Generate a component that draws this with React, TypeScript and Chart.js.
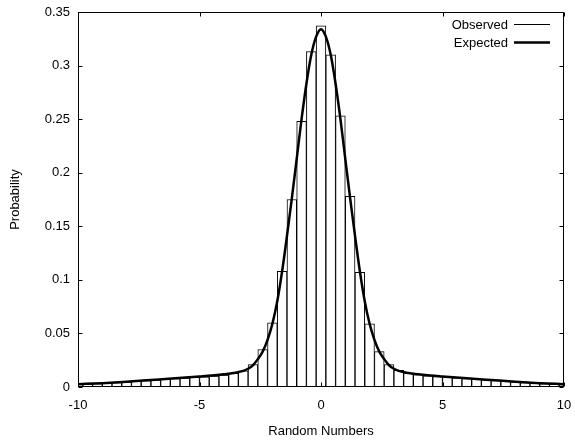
import React, { useEffect, useRef } from "react";
import { Chart, registerables } from "chart.js";

Chart.register(...registerables);

// Histogram bin centres (bin width 0.4)
const binCenters = [
  -10, -9.6, -9.2, -8.8, -8.4, -8, -7.6, -7.2, -6.8, -6.4, -6, -5.6, -5.2, -4.8, -4.4, -4, -3.6,
  -3.2, -2.8, -2.4, -2, -1.6, -1.2, -0.8, -0.4, 0, 0.4, 0.8, 1.2, 1.6, 2, 2.4, 2.8, 3.2, 3.6, 4,
  4.4, 4.8, 5.2, 5.6, 6, 6.4, 6.8, 7.2, 7.6, 8, 8.4, 8.8, 9.2, 9.6, 10,
];

// Observed probabilities
const observed = [
  0.0025, 0.0028, 0.0032, 0.0036, 0.0041, 0.0047, 0.0053, 0.006, 0.0066, 0.0072, 0.0078, 0.0083,
  0.009, 0.0095, 0.0102, 0.0112, 0.0128, 0.015, 0.021, 0.035, 0.06, 0.108, 0.175, 0.248, 0.313,
  0.337, 0.31, 0.253, 0.178, 0.107, 0.059, 0.033, 0.021, 0.0155, 0.013, 0.0115, 0.0105, 0.0098,
  0.0092, 0.0086, 0.0079, 0.0073, 0.0067, 0.0061, 0.0054, 0.0048, 0.0042, 0.0036, 0.0031, 0.0027,
  0.0022,
];

// Expected curve samples
const curveX = [
  -10, -9, -8, -7, -6, -5, -4.5, -4, -3.6, -3.2, -3, -2.8, -2.6, -2.4, -2.2, -2, -1.8, -1.6, -1.4,
  -1.2, -1, -0.8, -0.6, -0.4, -0.2, 0, 0.2, 0.4, 0.6, 0.8, 1, 1.2, 1.4, 1.6, 1.8, 2, 2.2, 2.4, 2.6,
  2.8, 3, 3.2, 3.6, 4, 4.5, 5, 6, 7, 8, 9, 10,
];
const curveY = [
  0.0026, 0.0036, 0.0049, 0.0065, 0.0081, 0.0098, 0.0107, 0.0119, 0.013, 0.015, 0.017, 0.0203,
  0.026, 0.033, 0.044, 0.059, 0.08, 0.108, 0.141, 0.176, 0.213, 0.25, 0.283, 0.31, 0.327, 0.334,
  0.327, 0.31, 0.283, 0.25, 0.213, 0.176, 0.141, 0.108, 0.08, 0.059, 0.044, 0.033, 0.026, 0.0203,
  0.017, 0.015, 0.013, 0.0119, 0.0107, 0.0098, 0.0081, 0.0065, 0.0049, 0.0036, 0.0026,
];

const xTicks = [-10, -5, 0, 5, 10];
const yTicks = [0, 0.05, 0.1, 0.15, 0.2, 0.25, 0.3, 0.35];
const legendLabels = ["Observed", "Expected"];

const FONT = "'Liberation Sans', Arial, Helvetica, sans-serif";

const framePlugin = {
  id: "frame",
  afterDraw(chart: any) {
    const { ctx, chartArea: a, scales } = chart;
    const L = Math.round(a.left) + 0.5;
    const R = Math.round(a.right) - 0.5;
    const T = Math.round(a.top) + 0.5;
    const B = Math.round(a.bottom) - 0.5;
    ctx.save();
    ctx.strokeStyle = "#000";
    ctx.lineWidth = 1;
    ctx.beginPath();
    ctx.rect(L, T, R - L, B - T);
    ctx.stroke();
    const tl = 4;
    ctx.beginPath();
    for (const v of xTicks) {
      const px = Math.round(scales.x.getPixelForValue(v)) + 0.5;
      ctx.moveTo(px, B);
      ctx.lineTo(px, B - tl);
      ctx.moveTo(px, T);
      ctx.lineTo(px, T + tl);
    }
    for (const v of yTicks) {
      const py = Math.round(scales.y.getPixelForValue(v)) + 0.5;
      ctx.moveTo(L, py);
      ctx.lineTo(L + tl, py);
      ctx.moveTo(R, py);
      ctx.lineTo(R - tl, py);
    }
    ctx.stroke();

    // legend
    ctx.font = `13px ${FONT}`;
    ctx.fillStyle = "#000";
    ctx.textAlign = "right";
    ctx.textBaseline = "alphabetic";
    const rows = [
      { y: 24.5, w: 1 },
      { y: 42.5, w: 2.5 },
    ];
    legendLabels.forEach((lab, i) => {
      const r = rows[i];
      ctx.fillText(lab, 508, r.y + 4.5);
      ctx.lineWidth = r.w;
      ctx.beginPath();
      ctx.moveTo(514, r.y);
      ctx.lineTo(550, r.y);
      ctx.stroke();
    });
    ctx.restore();
  },
};

export default function App() {
  const ref = useRef<HTMLCanvasElement>(null);
  useEffect(() => {
    if (!ref.current) return;
    const chart = new Chart(ref.current, {
      type: "bar",
      data: {
        datasets: [
          {
            type: "line",
            label: "Expected",
            data: curveX.map((x, i) => ({ x, y: curveY[i] })),
            borderColor: "#000",
            borderWidth: 2.5,
            pointRadius: 0,
            cubicInterpolationMode: "monotone",
            fill: false,
            order: 0,
          } as any,
          {
            type: "bar",
            label: "Observed",
            data: binCenters.map((x, i) => ({ x, y: observed[i] })),
            backgroundColor: "#fff",
            borderColor: "#000",
            borderWidth: 1,
            borderSkipped: false,
            barPercentage: 1,
            categoryPercentage: 1,
            order: 1,
          } as any,
        ],
      },
      options: {
        responsive: false,
        animation: false,
        layout: { padding: { top: 12, right: 11, left: 0, bottom: 0 } },
        plugins: { legend: { display: false }, tooltip: { enabled: false } },
        scales: {
          x: {
            type: "linear",
            min: -10,
            max: 10,
            offset: false,
            grid: { display: false, drawTicks: false, offset: false },
            border: { display: false },
            afterBuildTicks: (s: any) => {
              s.ticks = xTicks.map((v) => ({ value: v }));
            },
            afterFit: (s: any) => {
              s.height = 56;
              s.paddingLeft = 0;
              s.paddingRight = 0;
            },
            ticks: {
              padding: 11,
              color: "#000",
              font: { family: FONT, size: 13 },
              maxRotation: 0,
              callback: (v: any) => String(v),
            },
            title: {
              display: true,
              text: "Random Numbers",
              color: "#000",
              font: { family: FONT, size: 13 },
              padding: { top: 0, bottom: 4 },
            },
          },
          y: {
            type: "linear",
            min: 0,
            max: 0.35,
            grid: { display: false, drawTicks: false },
            border: { display: false },
            afterBuildTicks: (s: any) => {
              s.ticks = yTicks.map((v) => ({ value: v }));
            },
            afterFit: (s: any) => {
              s.width = 78;
              s.paddingTop = 0;
              s.paddingBottom = 0;
            },
            ticks: {
              padding: 8,
              color: "#000",
              font: { family: FONT, size: 13 },
              callback: (v: any) => String(+Number(v).toFixed(2)),
            },
            title: {
              display: true,
              text: "Probability",
              color: "#000",
              font: { family: FONT, size: 13 },
              padding: { top: 8, bottom: 0 },
            },
          },
        },
      },
      plugins: [framePlugin],
    });
    return () => chart.destroy();
  }, []);
  return (
    <div style={{ position: "absolute", left: 0, top: 0, width: 575, height: 443, background: "#fff" }}>
      <canvas ref={ref} width={575} height={443} style={{ display: "block" }} />
    </div>
  );
}
